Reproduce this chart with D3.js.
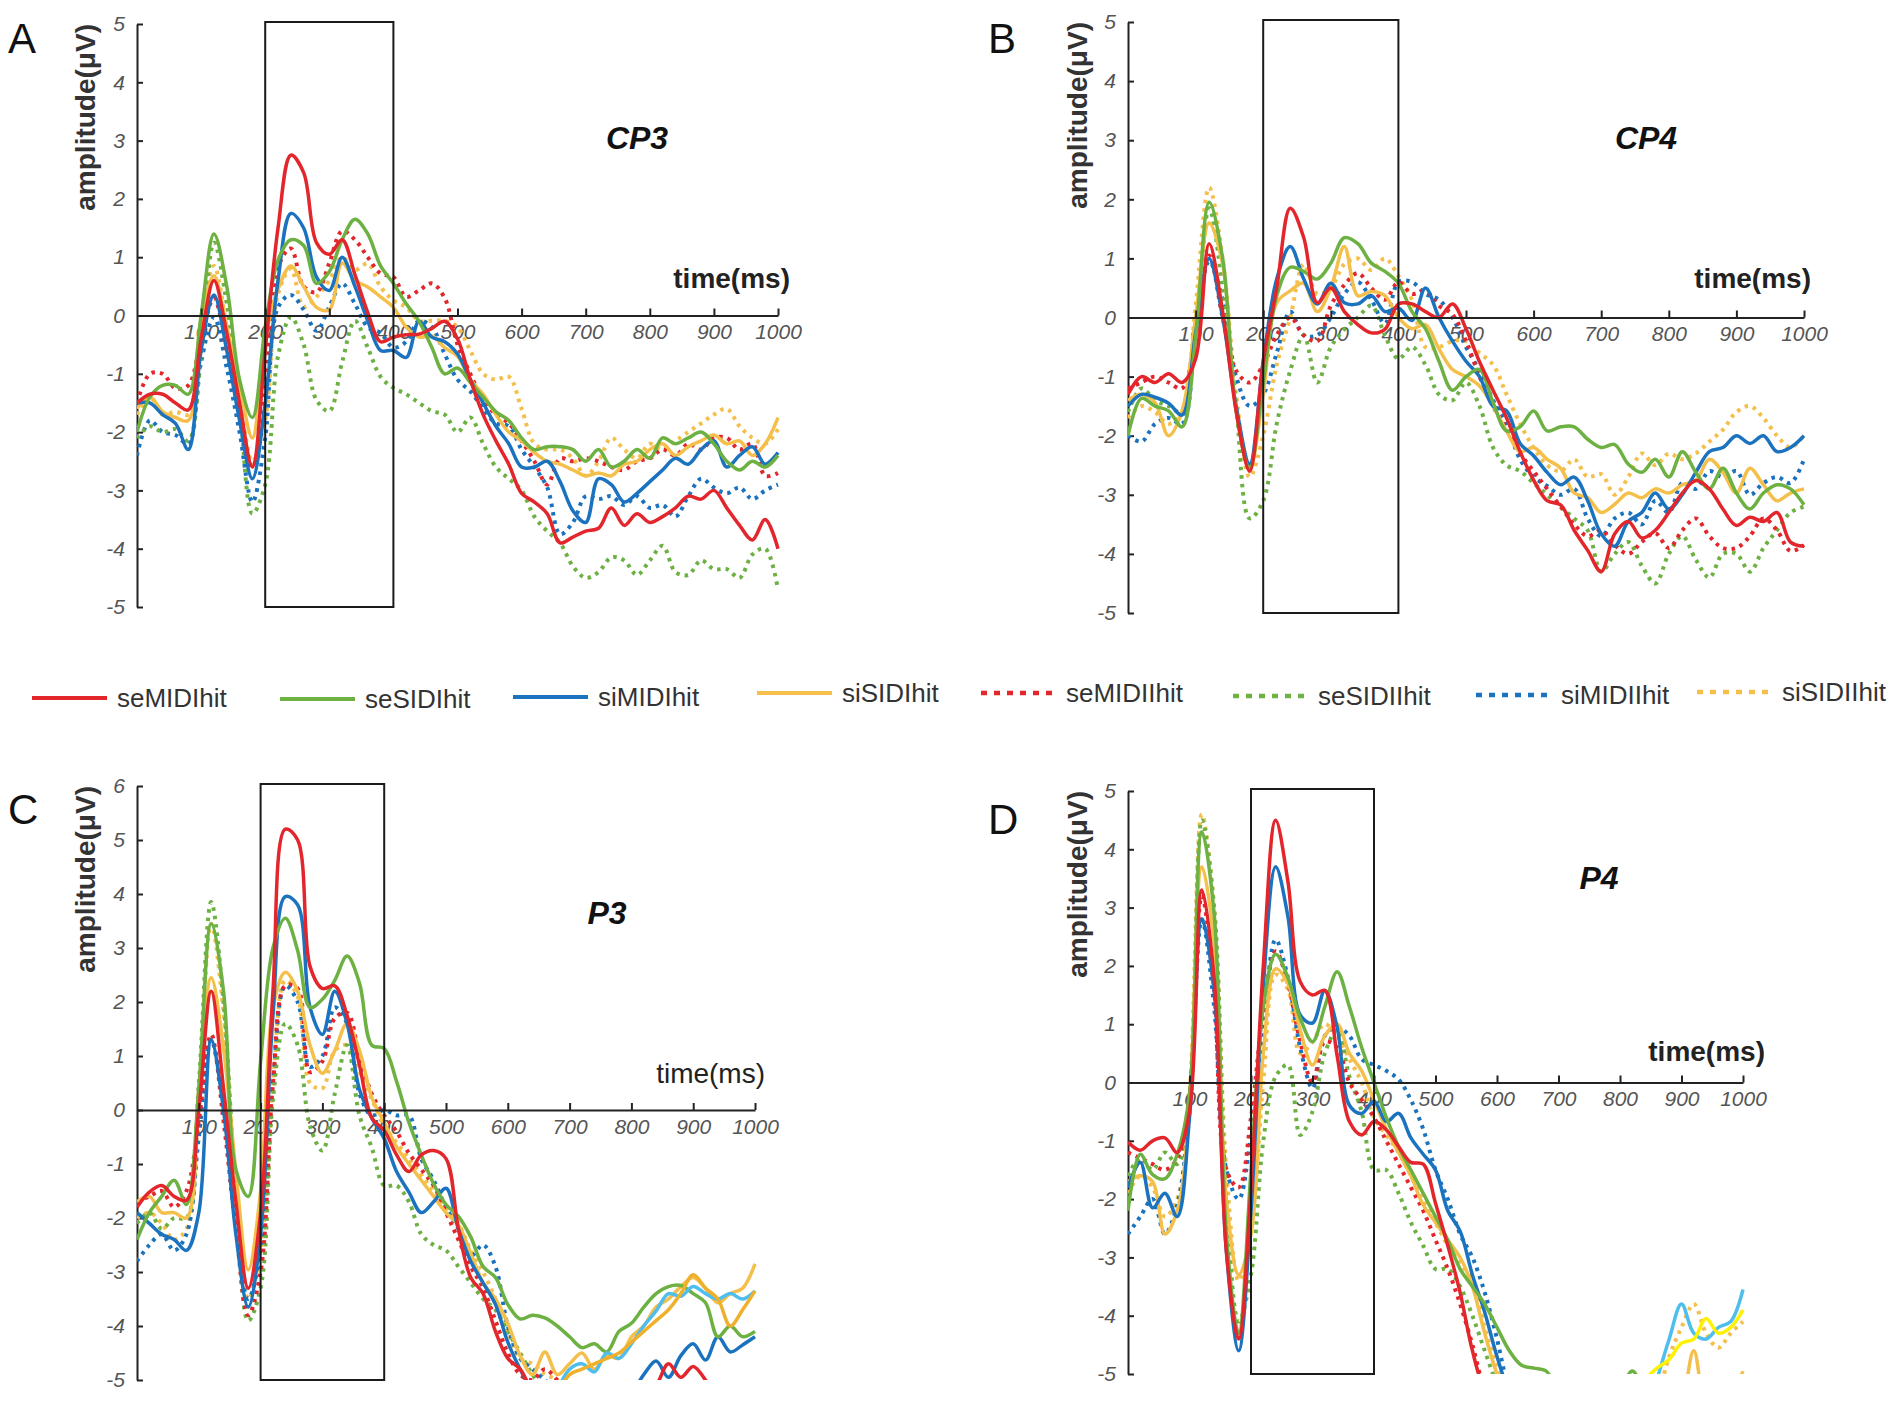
<!DOCTYPE html>
<html>
<head>
<meta charset="utf-8">
<script src="https://cdn.jsdelivr.net/npm/d3@7"></script>
<style>
  body { margin: 0; background: #fff; }
  svg { display: block; }
</style>
</head>
<body>
<svg id="chart"></svg>
<script>
// sample grid (ms)
const timesMs = d3.range(0, 1001, 20);
const xTicks = [100, 200, 300, 400, 500, 600, 700, 800, 900, 1000];

const seriesNames = ["seMIDIhit", "seSIDIhit", "siMIDIhit", "siSIDIhit",
  "seMIDIIhit", "seSIDIIhit", "siMIDIIhit", "siSIDIIhit"];
const seriesColors = ["#e3262b", "#6db143", "#1b72be", "#f4bf4a",
  "#e3262b", "#6db143", "#1b72be", "#f4bf4a"];
const seriesDotted = [false, false, false, false, true, true, true, true];

// CP3
const cp3Values = [
  [-1.5,-1.35,-1.35,-1.5,-1.62,-0.4,0.6,-0.3,-1.5,-2.6, -0.6,1.5,2.75,2.45,1.25,1.05,1.3,0.7,0.05,-0.45, -0.37,-0.33,-0.32,-0.22,-0.1,-0.4,-1.1,-1.7,-2.15,-2.55, -3.05,-3.2,-3.4,-3.9,-3.8,-3.7,-3.65,-3.3,-3.6,-3.4, -3.55,-3.45,-3.3,-3.1,-3.15,-3.0,-3.3,-3.6,-3.85,-3.5,-4.0],
  [-2.0,-1.4,-1.2,-1.2,-1.35,0.0,1.4,0.5,-1.1,-1.75, -0.2,0.95,1.3,1.2,0.55,0.75,1.3,1.65,1.4,0.85, 0.55,0.2,-0.1,-0.55,-1.0,-0.9,-1.15,-1.4,-1.65,-1.8, -2.1,-2.3,-2.25,-2.25,-2.3,-2.5,-2.3,-2.6,-2.5,-2.3, -2.45,-2.1,-2.2,-2.1,-2.0,-2.2,-2.5,-2.65,-2.5,-2.6,-2.4],
  [-1.5,-1.5,-1.7,-1.85,-2.3,-0.6,0.35,-0.6,-1.8,-2.8, -1.5,0.6,1.75,1.5,0.66,0.43,1.0,0.5,-0.09,-0.6, -0.6,-0.72,-0.1,-0.37,-0.45,-0.66,-1.1,-1.5,-1.9,-2.2, -2.6,-2.6,-2.5,-2.85,-3.35,-3.55,-2.8,-2.9,-3.2,-3.05, -2.85,-2.65,-2.45,-2.55,-2.3,-2.15,-2.6,-2.4,-2.25,-2.55,-2.35],
  [-1.6,-1.4,-1.65,-1.75,-1.8,-0.1,0.68,-0.2,-1.2,-2.1, -0.4,0.45,0.85,0.5,0.14,0.1,0.9,0.6,0.49,0.32, 0.14,-0.2,-0.37,-0.35,-0.55,-0.7,-1.1,-1.35,-1.7,-2.0, -2.15,-2.35,-2.5,-2.55,-2.65,-2.75,-2.7,-2.75,-2.55,-2.5, -2.3,-2.2,-2.4,-2.25,-2.15,-2.05,-2.2,-2.15,-2.4,-2.2,-1.75],
  [-1.5,-1.0,-1.0,-1.25,-1.2,-0.4,0.3,-0.6,-1.7,-2.6, -1.24,0.83,1.15,0.5,0.4,0.9,1.45,1.3,1.0,0.72, 0.66,0.32,0.43,0.55,0.3,-0.5,-1.0,-1.45,-1.7,-1.85, -2.15,-2.5,-2.9,-2.45,-2.5,-2.45,-2.5,-2.6,-2.65,-2.5, -2.45,-2.3,-2.4,-2.2,-2.3,-2.1,-2.1,-2.3,-2.2,-2.75,-2.7],
  [-2.1,-1.9,-2.0,-1.95,-2.15,-0.66,1.25,0.2,-1.5,-3.4, -2.9,-0.7,-0.03,-0.5,-1.45,-1.64,-0.8,-0.09,-0.55,-1.05, -1.24,-1.35,-1.5,-1.64,-1.7,-2.0,-1.75,-2.2,-2.6,-2.8, -3.0,-3.45,-3.7,-3.9,-4.3,-4.5,-4.4,-4.15,-4.2,-4.45, -4.2,-3.95,-4.4,-4.45,-4.2,-4.35,-4.35,-4.5,-4.1,-4.0,-4.7],
  [-2.4,-1.8,-2.0,-2.05,-2.2,-0.8,-0.03,-0.9,-2.0,-3.2, -2.1,0.14,0.35,0.1,-0.26,0.15,0.55,0.2,-0.2,-0.3, -0.55,-0.45,-0.09,-0.2,-0.66,-1.1,-1.3,-1.6,-1.85,-1.9, -2.3,-2.6,-2.95,-3.75,-3.55,-3.1,-3.15,-3.1,-3.25,-3.1, -3.3,-3.25,-3.45,-3.1,-2.8,-2.95,-3.05,-2.95,-3.15,-3.0,-2.9],
  [-1.7,-1.4,-1.7,-1.65,-1.7,-0.1,0.85,-0.2,-1.4,-2.5, -1.8,0.37,0.8,0.15,0.32,0.6,1.0,0.78,0.89,0.49, 0.26,0.14,-0.09,-0.09,-0.09,-0.2,-0.6,-1.0,-1.1,-1.05, -1.6,-2.2,-2.3,-2.3,-2.45,-2.75,-2.5,-2.1,-2.3,-2.45, -2.2,-2.3,-2.15,-2.0,-1.85,-1.7,-1.6,-1.9,-2.1,-2.2,-1.95]
];

// CP4
const cp4Values = [
  [-1.3,-1.0,-1.1,-0.95,-1.1,-0.7,1.25,0.1,-1.58,-2.6, -0.75,0.5,1.85,1.35,0.25,0.5,0.1,-0.12,-0.26,-0.2, 0.23,0.23,0.1,0.0,0.23,-0.19,-0.75,-1.23,-1.7,-2.27, -2.75,-3.1,-3.17,-3.6,-3.94,-4.3,-3.66,-3.45,-3.73,-3.6, -3.3,-2.97,-2.76,-2.9,-3.24,-3.52,-3.38,-3.45,-3.3,-3.8,-3.87],
  [-2.0,-1.37,-1.5,-1.58,-1.85,-0.33,1.95,1.0,-1.58,-2.55, -1.1,0.37,0.85,0.78,0.65,0.92,1.35,1.25,0.92,0.78, 0.58,0.1,-0.19,-0.74,-1.23,-1.0,-0.88,-1.44,-1.92,-1.85, -1.58,-1.92,-1.85,-1.85,-2.06,-2.2,-2.15,-2.48,-2.62,-2.4, -2.7,-2.27,-2.62,-2.9,-2.55,-2.97,-3.24,-2.97,-2.83,-2.9,-3.17],
  [-1.5,-1.3,-1.35,-1.45,-1.65,-0.26,1.0,0.0,-1.5,-2.48, -0.74,0.65,1.2,0.65,0.23,0.58,0.25,0.23,0.37,0.1, 0.16,-0.05,0.5,0.0,-0.4,-0.74,-1.0,-1.5,-1.58,-2.13, -2.34,-2.62,-2.83,-2.7,-3.1,-3.66,-3.87,-3.45,-3.3,-2.97, -3.24,-3.0,-2.62,-2.27,-2.2,-2.0,-2.13,-2.0,-2.27,-2.2,-2.0],
  [-1.4,-1.3,-1.44,-2.0,-1.58,0.0,1.6,0.9,-1.58,-2.55, -1.3,0.25,0.45,0.58,0.1,0.5,1.2,0.37,0.44,0.37, 0.0,-0.19,-0.12,-0.53,-0.88,-1.0,-1.16,-1.5,-1.92,-2.27, -2.2,-2.4,-2.55,-2.97,-3.05,-3.3,-3.16,-2.97,-3.05,-2.9, -2.97,-2.83,-2.76,-2.4,-2.62,-2.97,-2.55,-2.83,-3.1,-2.97,-2.9],
  [-1.2,-1.1,-1.0,-1.1,-1.2,-0.3,1.05,0.0,-0.9,-1.1, -0.8,-0.3,0.0,-0.3,-0.4,0.2,0.55,0.75,0.5,0.3, 0.6,0.4,0.45,0.2,0.05,-0.4,-1.0,-1.5,-1.9,-2.3, -2.6,-2.9,-3.2,-3.5,-3.7,-3.6,-3.85,-4.0,-3.8,-3.65, -3.9,-3.6,-3.4,-3.7,-3.9,-3.9,-3.7,-3.4,-3.6,-3.95,-3.85],
  [-1.6,-1.2,-1.4,-1.5,-1.6,-0.3,1.85,0.5,-1.5,-3.4, -3.1,-1.8,-0.9,-0.3,-1.1,-0.5,-0.2,0.0,0.2,-0.3, -0.7,-0.5,-0.8,-1.3,-1.4,-1.1,-1.5,-2.2,-2.5,-2.6, -2.8,-3.0,-3.2,-3.4,-3.6,-4.3,-4.0,-3.8,-4.2,-4.5, -4.0,-3.7,-4.1,-4.4,-4.0,-4.0,-4.3,-3.9,-3.6,-3.3,-3.2],
  [-2.0,-2.1,-1.8,-1.7,-1.8,-0.3,0.95,0.3,-1.0,-1.5, -1.3,-0.6,0.1,-0.3,-0.3,0.0,0.4,0.6,0.3,-0.1, 0.6,0.6,0.4,0.3,0.0,-0.5,-0.9,-1.4,-1.8,-2.4, -2.7,-2.85,-3.0,-2.9,-3.4,-3.7,-3.4,-3.3,-3.5,-3.1, -3.3,-2.8,-2.9,-2.6,-2.7,-2.6,-3.0,-2.8,-2.7,-2.8,-2.4],
  [-1.7,-1.5,-1.6,-1.8,-1.6,0.2,2.2,1.0,-1.3,-2.7, -2.0,-0.8,0.0,0.9,0.4,0.5,0.9,1.0,0.8,1.0, 0.7,0.3,-0.5,-0.5,-0.4,-0.4,-0.6,-0.8,-1.3,-1.8, -2.2,-2.5,-2.6,-2.4,-2.7,-2.65,-3.0,-2.7,-2.3,-2.5, -2.3,-2.4,-2.3,-2.1,-1.9,-1.6,-1.5,-1.7,-2.0,-2.2,-2.0]
];

// P3
const p3Values = [
  [-1.8,-1.52,-1.4,-1.6,-1.67,0.0,2.2,0.4,-1.7,-3.3, -1.9,2.2,5.2,5.0,2.66,2.25,2.3,1.75,0.83,-0.15, -0.38,-0.83,-1.14,-0.83,-0.75,-0.9,-2.2,-3.1,-3.4,-4.1, -4.6,-4.8,-5.2,-5.4,-5.5,-5.6,-5.6,-5.5,-5.5,-5.4, -5.4,-5.3,-5.1,-4.7,-4.95,-4.75,-5.0,-5.3,-5.4,-5.5,-5.6],
  [-2.4,-1.9,-1.6,-1.3,-1.75,0.4,3.45,2.2,-1.1,-1.6, 0.9,3.0,3.55,2.95,1.9,2.05,2.4,2.85,2.35,1.2, 1.14,0.53,-0.23,-0.83,-1.37,-1.75,-1.97,-2.35,-2.9,-3.1, -3.6,-3.87,-3.8,-3.85,-4.0,-4.2,-4.4,-4.33,-4.48,-4.1, -3.95,-3.65,-3.4,-3.27,-3.25,-3.4,-3.57,-4.2,-4.0,-4.2,-4.1],
  [-1.9,-2.1,-2.3,-2.4,-2.6,-1.9,1.3,0.0,-2.3,-3.65, -2.3,1.75,3.95,3.8,1.9,1.4,2.2,1.6,0.38,-0.15, -0.53,-1.14,-1.52,-1.9,-1.7,-1.45,-2.2,-2.8,-3.2,-3.6, -4.3,-4.8,-5.2,-5.4,-5.5,-5.5,-5.4,-5.4,-5.3,-5.1, -5.2,-4.9,-4.65,-4.95,-4.55,-4.33,-4.63,-4.2,-4.48,-4.35,-4.2],
  [-1.7,-1.6,-1.9,-1.9,-2.0,0.38,2.45,1.14,-1.14,-2.96, -1.5,1.9,2.55,2.2,1.2,0.68,1.1,1.6,1.1,0.23, -0.23,-0.68,-1.0,-1.3,-1.6,-1.9,-2.13,-2.65,-3.2,-3.5, -3.95,-4.55,-4.9,-4.48,-4.9,-4.7,-4.5,-4.8,-4.55,-4.6, -4.2,-4.0,-3.65,-3.5,-3.27,-3.1,-3.3,-3.57,-3.4,-3.3,-2.85],
  [-1.7,-1.6,-1.5,-1.8,-1.5,-0.2,1.4,-0.2,-2.2,-3.8, -3.0,0.5,2.3,2.25,0.7,0.9,1.7,1.8,1.0,0.3, -0.1,-0.4,-0.8,-1.1,-1.4,-1.9,-2.4,-2.9,-3.3,-3.9, -4.5,-4.9,-5.0,-4.8,-5.0,-5.3,-5.5,-5.6,-5.6,-5.6, -5.6,-5.6,-5.6,-5.6,-5.6,-5.6,-5.6,-5.6,-5.6,-5.6,-5.6],
  [-2.1,-1.9,-2.2,-2.0,-2.0,0.5,3.85,2.0,-1.6,-3.9, -3.3,0.2,1.6,1.2,-0.3,-0.75,0.3,1.2,-0.1,-0.7, -1.4,-1.4,-1.7,-2.3,-2.5,-2.6,-2.9,-3.2,-3.5,-3.7, -4.1,-4.5,-4.9,-5.2,-5.4,-5.6,-5.6,-5.6,-5.6,-5.6, -5.6,-5.6,-5.6,-5.6,-5.6,-5.6,-5.6,-5.6,-5.6,-5.6,-5.6],
  [-2.8,-2.5,-2.3,-2.6,-2.3,-0.5,1.3,0.0,-2.2,-3.5, -2.6,0.5,2.3,2.0,0.8,1.0,1.9,1.6,0.3,-0.1, 0.0,-0.1,-0.1,-0.9,-1.3,-1.8,-2.2,-2.7,-2.5,-2.9, -4.0,-4.6,-4.8,-5.0,-5.2,-5.5,-5.6,-5.6,-5.6,-5.6, -5.6,-5.6,-5.6,-5.6,-5.6,-5.6,-5.6,-5.6,-5.6,-5.6,-5.6],
  [-2.0,-1.9,-2.1,-2.4,-2.2,0.2,3.45,1.8,-1.5,-3.5, -2.6,0.5,2.4,2.1,0.5,0.4,1.1,1.2,0.7,0.2, -0.3,-0.6,-0.9,-1.2,-1.5,-1.8,-2.1,-2.6,-3.0,-3.5, -4.1,-4.6,-4.7,-4.9,-5.0,-5.3,-5.6,-5.6,-5.6,-5.6, -5.6,-5.6,-5.6,-5.6,-5.6,-5.6,-5.6,-5.6,-5.6,-5.6,-5.6]
];
// late traces drawn in other colours in P3
const p3ExtraColors = ["#4dbeee", "#efb02c"];
const p3ExtraValues = [
  [null,null,null,null,null,null,null,null,null,null, null,null,null,null,null,null,null,null,null,null, null,null,null,null,null,null,null,null,null,null, null,null,null,null,-5.2,-4.8,-4.7,-4.85,-4.5,-4.6, -4.33,-4.0,-3.72,-3.4,-3.45,-3.27,-3.4,-3.5,-3.4,-3.5,-3.35],
  [null,null,null,null,null,null,null,null,null,null, null,null,null,null,null,null,null,null,null,null, null,null,null,null,null,null,null,null,null,null, null,null,null,null,-5.3,-4.9,-4.8,-4.7,-4.6,-4.5, -4.3,-4.1,-3.9,-3.7,-3.4,-3.05,-3.3,-3.5,-4.0,-3.7,-3.35]
];

// P4
const p4Values = [
  [-1.02,-1.16,-1.0,-0.95,-1.2,-0.5,3.3,1.8,-2.9,-4.4, -1.8,2.0,4.5,3.45,1.73,1.5,1.58,0.46,-0.67,-0.9, -0.67,-0.81,-1.1,-1.37,-1.4,-2.07,-2.8,-3.6,-4.6,-5.3, -5.6,-5.8,-5.8,-5.8,-5.8,-5.8,-5.8,-5.8,-5.8,-5.8, -5.8,-5.8,-5.8,-5.8,-5.8,-5.8,-5.8,-5.8,-5.8,-5.8,-5.8],
  [-2.2,-1.23,-1.58,-1.65,-1.23,-0.2,4.3,2.9,-2.6,-4.3, -1.5,1.3,2.2,1.8,1.1,0.7,1.3,1.9,1.3,0.6, 0.0,-0.6,-1.1,-1.5,-1.9,-2.3,-2.7,-3.2,-3.5,-3.8, -4.2,-4.6,-4.85,-4.9,-4.95,-5.3,-5.5,-5.5,-5.5,-5.5, -5.3,-4.95,-5.3,-5.5,-5.05,-5.5,-5.5,-5.5,-5.5,-5.5,-5.5],
  [-1.8,-1.37,-2.15,-1.9,-2.3,-0.6,2.8,1.58,-2.9,-4.6, -2.2,1.65,3.7,2.85,1.16,1.02,1.58,0.95,-0.39,-0.53, -0.32,-0.67,-0.53,-0.95,-1.23,-1.5,-2.2,-2.55,-3.3,-3.94, -4.7,-5.3,-5.6,-5.8,-5.8,-5.8,-5.8,-5.8,-5.8,-5.8, -5.8,-5.8,-5.8,-5.8,-5.8,-5.8,-5.8,-5.8,-5.8,-5.8,-5.8],
  [-1.7,-1.6,-1.7,-2.6,-2.2,-0.4,3.7,2.4,-2.0,-3.3, -2.6,0.5,1.95,1.7,0.9,0.3,0.8,1.0,0.5,0.2, -0.3,-0.8,-1.2,-1.6,-2.1,-2.4,-2.7,-3.0,-3.5,-4.3, -5.0,-5.5,-5.8,-5.8,-5.8,-5.8,-5.8,-5.8,-5.8,-5.8, -5.8,-5.8,-5.8,-5.8,-5.8,-5.5,-4.6,-5.5,-5.3,-5.3,-4.95],
  [-1.2,-1.3,-1.4,-1.5,-1.3,-0.2,3.2,1.6,-1.5,-1.8, -0.6,1.2,2.25,1.7,0.7,0.0,0.7,0.6,0.0,-0.3, -0.6,-1.0,-1.4,-1.8,-2.2,-2.7,-3.2,-3.8,-4.5,-5.3, -5.8,-5.8,-5.8,-5.8,-5.8,-5.8,-5.8,-5.8,-5.8,-5.8, -5.8,-5.8,-5.8,-5.8,-5.8,-5.8,-5.8,-5.8,-5.8,-5.8,-5.8],
  [-1.6,-1.3,-1.5,-1.2,-1.4,-0.3,4.5,3.0,-2.0,-4.1, -3.3,-1.0,0.1,0.3,-0.9,-0.5,0.5,0.9,0.1,-0.5, -1.5,-1.5,-1.9,-2.4,-2.8,-3.2,-3.2,-3.5,-4.0,-4.6, -5.2,-5.8,-5.8,-5.8,-5.8,-5.8,-5.8,-5.8,-5.8,-5.8, -5.8,-5.8,-5.8,-5.8,-5.8,-5.8,-5.8,-5.8,-5.8,-5.8,-5.8],
  [-2.6,-2.3,-2.0,-2.6,-2.1,-0.5,2.8,1.3,-1.5,-2.0, -0.9,1.0,2.45,1.8,0.6,-0.1,0.8,0.95,0.8,0.4, 0.3,0.2,0.05,-0.3,-0.8,-1.5,-2.0,-2.6,-3.0,-3.6, -4.4,-5.3,-5.8,-5.8,-5.8,-5.8,-5.8,-5.8,-5.8,-5.8, -5.8,-5.8,-5.8,-5.8,-5.8,-5.8,-5.8,-5.8,-5.8,-5.8,-5.8],
  [-1.9,-1.6,-1.8,-2.3,-2.0,-0.2,4.6,3.0,-1.5,-3.4, -2.5,0.0,1.85,1.6,0.5,0.7,1.0,0.8,0.4,0.0, -0.6,-0.9,-1.2,-1.6,-2.0,-2.4,-2.8,-3.1,-3.4,-4.2, -4.9,-5.4,-5.8,-5.8,-5.8,-5.8,-5.8,-5.8,-5.8,-5.8, -5.8,-5.8,-5.8,-5.4,-4.7,-4.2,-3.8,-4.3,-4.55,-4.3,-4.1]
];
// late traces drawn in other colours in P4
const p4ExtraColors = ["#4dbeee", "#fff200"];
const p4ExtraValues = [
  [null,null,null,null,null,null,null,null,null,null, null,null,null,null,null,null,null,null,null,null, null,null,null,null,null,null,null,null,null,null, null,null,null,null,null,null,null,null,null,null, null,null,null,-5.1,-4.4,-3.8,-4.3,-4.4,-4.2,-4.1,-3.55],
  [null,null,null,null,null,null,null,null,null,null, null,null,null,null,null,null,null,null,null,null, null,null,null,null,null,null,null,null,null,null, null,null,null,null,null,null,null,null,null,null, null,null,-5.1,-4.9,-4.75,-4.47,-4.4,-4.05,-4.3,-4.2,-3.9]
];

const W = 1902, H = 1406;
const font = "'Liberation Sans', Arial, Helvetica, sans-serif";

const svg = d3.select("#chart").attr("width", W).attr("height", H)
  .style("font-family", font);
svg.append("rect").attr("width", W).attr("height", H).attr("fill", "#fff");

const panels = [
  { letter: "A", title: "CP3", values: cp3Values, extraValues: [], extraColors: [],
    x0: 137, x1: 778, yTop: 24, yBot: 607, yMax: 5,
    letterX: 8, letterY: 53, titleX: 637, titleY: 149, timeX: 790, timeY: 288, timeBold: true,
    ampX: 95 },
  { letter: "B", title: "CP4", values: cp4Values, extraValues: [], extraColors: [],
    x0: 1128, x1: 1804, yTop: 22, yBot: 613, yMax: 5,
    letterX: 988, letterY: 53, titleX: 1646, titleY: 149, timeX: 1811, timeY: 288, timeBold: true,
    ampX: 1087 },
  { letter: "C", title: "P3", values: p3Values, extraValues: p3ExtraValues, extraColors: p3ExtraColors,
    x0: 137, x1: 755, yTop: 786, yBot: 1380, yMax: 6,
    letterX: 8, letterY: 824, titleX: 607, titleY: 924, timeX: 765, timeY: 1083, timeBold: false,
    ampX: 95 },
  { letter: "D", title: "P4", values: p4Values, extraValues: p4ExtraValues, extraColors: p4ExtraColors,
    x0: 1128, x1: 1743, yTop: 791, yBot: 1374, yMax: 5,
    letterX: 988, letterY: 834, titleX: 1599, titleY: 889, timeX: 1765, timeY: 1061, timeBold: true,
    ampX: 1087 }
];

const defs = svg.append("defs");

panels.forEach((p, pi) => {
  const x = d3.scaleLinear().domain([0, 1000]).range([p.x0, p.x1]);
  const y = d3.scaleLinear().domain([-5, p.yMax]).range([p.yBot, p.yTop]);
  const g = svg.append("g");

  defs.append("clipPath").attr("id", "clip" + pi)
    .append("rect")
    .attr("x", p.x0).attr("y", p.yTop - 2)
    .attr("width", p.x1 - p.x0 + 4).attr("height", p.yBot - p.yTop + 2);

  // x tick labels (under the traces)
  const xLab = g.append("g")
    .attr("transform", `translate(0,${y(0)})`)
    .call(d3.axisBottom(x).tickValues(xTicks).tickSize(0).tickPadding(9)
      .tickFormat(d => String(d)));
  xLab.select(".domain").remove();
  xLab.selectAll("text")
    .style("font-size", "21px").style("font-style", "italic")
    .style("font-family", font).attr("fill", "#555");

  // y axis
  const yAx = g.append("g")
    .attr("transform", `translate(${p.x0},0)`)
    .call(d3.axisLeft(y).tickValues(d3.range(-5, p.yMax + 1)).tickSize(-6)
      .tickSizeOuter(0).tickPadding(12).tickFormat(d => String(d)));
  yAx.select(".domain").attr("stroke", "#222").attr("stroke-width", 2);
  yAx.selectAll(".tick line").attr("stroke", "#222").attr("stroke-width", 2);
  yAx.selectAll("text")
    .style("font-size", "21px").style("font-style", "italic")
    .style("font-family", font).attr("fill", "#555");

  // traces
  const line = d3.line()
    .defined(d => d[1] != null)
    .x(d => x(d[0]))
    .y(d => y(d[1]))
    .curve(d3.curveCatmullRom.alpha(0.5));

  const traces = g.append("g").attr("clip-path", `url(#clip${pi})`);
  const order = [7, 6, 5, 4, 3, 2, 1, 0];
  order.forEach(si => {
    const pts = p.values[si].map((v, i) => [timesMs[i], v]);
    traces.append("path")
      .attr("d", line(pts))
      .attr("fill", "none")
      .attr("stroke", seriesColors[si])
      .attr("stroke-width", seriesDotted[si] ? 4 : 3.5)
      .attr("stroke-dasharray", seriesDotted[si] ? "3.5 5" : null)
      .attr("stroke-linejoin", "round");
  });
  p.extraValues.forEach((vals, ei) => {
    const pts = vals.map((v, i) => [timesMs[i], v]);
    traces.append("path")
      .attr("d", line(pts))
      .attr("fill", "none")
      .attr("stroke", p.extraColors[ei])
      .attr("stroke-width", 3.5)
      .attr("stroke-linejoin", "round");
  });

  // zero line with upward ticks (on top)
  const xAx = g.append("g")
    .attr("transform", `translate(0,${y(0)})`)
    .call(d3.axisBottom(x).tickValues(xTicks).tickSize(-7).tickSizeOuter(0)
      .tickFormat(""));
  xAx.select(".domain").attr("stroke", "#222").attr("stroke-width", 2.2);
  xAx.selectAll(".tick line").attr("stroke", "#222").attr("stroke-width", 2);

  // analysis window 200-400 ms
  g.append("rect")
    .attr("x", x(200)).attr("y", y(p.yMax) - 2)
    .attr("width", x(400) - x(200)).attr("height", y(-5) - y(p.yMax) + 2)
    .attr("fill", "none").attr("stroke", "#1a1a1a").attr("stroke-width", 2);

  // labels
  g.append("text")
    .attr("transform", `translate(${p.ampX},${p.yTop}) rotate(-90)`)
    .attr("text-anchor", "end")
    .style("font-size", "28px").style("font-weight", "bold")
    .attr("fill", "#333")
    .text("amplitude(μV)");

  g.append("text")
    .attr("x", p.timeX).attr("y", p.timeY)
    .attr("text-anchor", "end")
    .style("font-size", "28px").style("font-weight", p.timeBold ? "bold" : "normal")
    .attr("fill", "#222")
    .text("time(ms)");

  g.append("text")
    .attr("x", p.titleX).attr("y", p.titleY)
    .attr("text-anchor", "middle")
    .style("font-size", "32px").style("font-weight", "bold").style("font-style", "italic")
    .attr("fill", "#111")
    .text(p.title);

  g.append("text")
    .attr("x", p.letterX).attr("y", p.letterY)
    .style("font-size", "42px")
    .attr("fill", "#111")
    .text(p.letter);
});

// legend
const legendX = [32, 280, 513, 757, 981, 1233, 1476, 1697];
const legendY = [698, 699, 697, 693, 693, 696, 695, 692];
const legend = svg.append("g");
seriesNames.forEach((name, i) => {
  const item = legend.append("g").attr("transform", `translate(${legendX[i]},${legendY[i]})`);
  item.append("line")
    .attr("x1", 0).attr("x2", 75).attr("y1", 0).attr("y2", 0)
    .attr("stroke", seriesColors[i])
    .attr("stroke-width", seriesDotted[i] ? 4.5 : 4)
    .attr("stroke-dasharray", seriesDotted[i] ? "6 7" : null);
  item.append("text")
    .attr("x", 85).attr("y", 9)
    .style("font-size", "26px")
    .attr("fill", "#333")
    .text(name);
});
</script>
</body>
</html>
